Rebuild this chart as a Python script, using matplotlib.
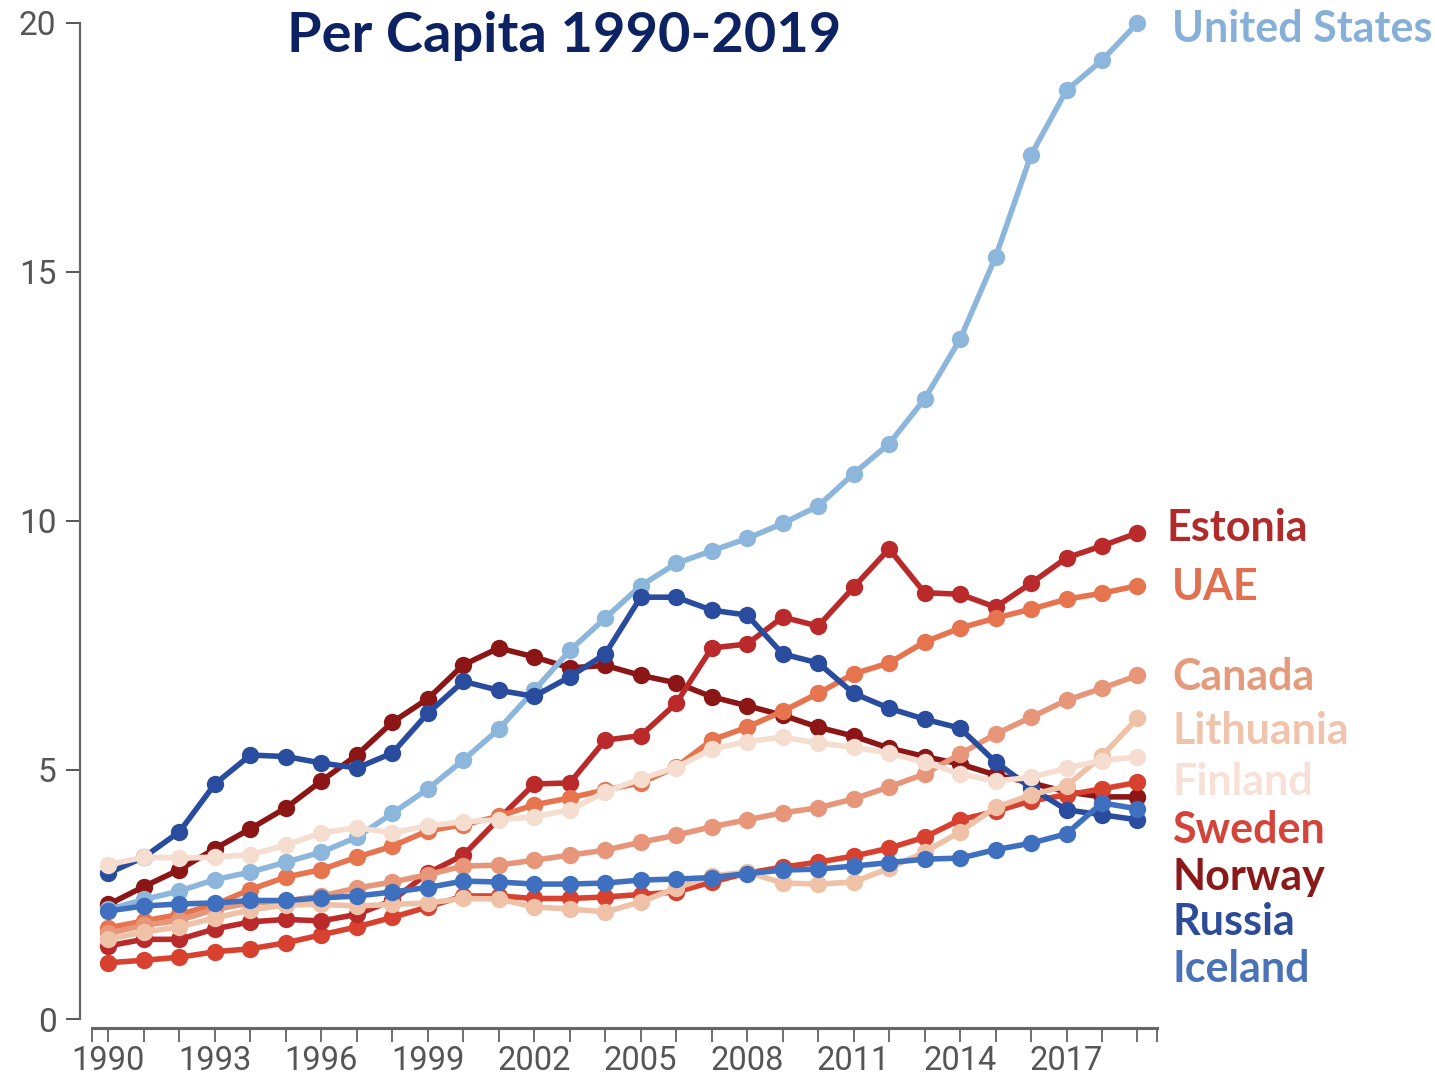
import matplotlib
matplotlib.use('Agg')
import matplotlib.pyplot as plt

years = list(range(1990, 2020))

united_states = [2.2, 2.4, 2.57, 2.8, 2.95, 3.15, 3.35, 3.65, 4.13, 4.62, 5.2, 5.82, 6.6, 7.4, 8.05,
                 8.7, 9.15, 9.4, 9.65, 9.95, 10.3, 10.95, 11.55, 12.45, 13.65, 15.3, 17.35, 18.65, 19.25, 20.0]
estonia = [1.47, 1.6, 1.6, 1.81, 1.95, 2.0, 1.97, 2.1, 2.38, 2.93, 3.29, 4.02, 4.72, 4.74, 5.6,
           5.69, 6.34, 7.45, 7.53, 8.07, 7.89, 8.67, 9.44, 8.56, 8.53, 8.27, 8.75, 9.26, 9.5, 9.76]
uae = [1.83, 1.97, 2.1, 2.3, 2.6, 2.85, 3.0, 3.25, 3.47, 3.78, 3.9, 4.07, 4.3, 4.44, 4.6,
       4.74, 5.06, 5.6, 5.86, 6.18, 6.54, 6.93, 7.15, 7.57, 7.85, 8.05, 8.23, 8.43, 8.55, 8.7]
canada = [1.72, 1.88, 1.98, 2.2, 2.33, 2.37, 2.47, 2.63, 2.75, 2.9, 3.07, 3.09, 3.19, 3.29, 3.39,
          3.55, 3.69, 3.86, 4.0, 4.14, 4.24, 4.42, 4.66, 4.92, 5.32, 5.72, 6.06, 6.4, 6.64, 6.9]
lithuania = [1.6, 1.75, 1.85, 2.03, 2.19, 2.29, 2.3, 2.27, 2.3, 2.33, 2.42, 2.41, 2.25, 2.21, 2.15,
             2.35, 2.63, 2.87, 2.95, 2.73, 2.71, 2.75, 3.03, 3.35, 3.76, 4.25, 4.5, 4.68, 5.28, 6.04]
finland = [3.1, 3.25, 3.23, 3.25, 3.3, 3.49, 3.74, 3.84, 3.74, 3.88, 3.96, 4.0, 4.06, 4.2, 4.56,
           4.82, 5.05, 5.42, 5.57, 5.66, 5.54, 5.46, 5.34, 5.16, 4.92, 4.78, 4.85, 5.04, 5.19, 5.26]
sweden = [1.13, 1.18, 1.24, 1.35, 1.41, 1.53, 1.69, 1.85, 2.04, 2.25, 2.47, 2.47, 2.42, 2.42, 2.45,
          2.5, 2.55, 2.75, 2.93, 3.05, 3.15, 3.27, 3.43, 3.65, 4.0, 4.17, 4.38, 4.5, 4.62, 4.75]
norway = [2.3, 2.66, 3.0, 3.42, 3.82, 4.24, 4.78, 5.3, 5.96, 6.43, 7.11, 7.45, 7.27, 7.05, 7.1,
          6.9, 6.75, 6.47, 6.29, 6.1, 5.86, 5.68, 5.44, 5.27, 5.12, 4.9, 4.74, 4.56, 4.46, 4.46]
russia = [2.93, 3.25, 3.76, 4.72, 5.3, 5.27, 5.14, 5.04, 5.34, 6.14, 6.78, 6.6, 6.48, 6.87, 7.33,
          8.47, 8.47, 8.21, 8.11, 7.33, 7.15, 6.54, 6.24, 6.02, 5.84, 5.16, 4.64, 4.2, 4.1, 4.0]
iceland = [2.17, 2.27, 2.31, 2.33, 2.38, 2.38, 2.43, 2.47, 2.55, 2.64, 2.77, 2.75, 2.71, 2.71, 2.73,
           2.79, 2.81, 2.84, 2.92, 2.99, 3.01, 3.07, 3.14, 3.21, 3.23, 3.4, 3.53, 3.72, 4.34, 4.22]

series_names = ["United States", "Estonia", "UAE", "Canada", "Lithuania", "Finland",
                "Sweden", "Norway", "Russia", "Iceland"]
series_values = [united_states, estonia, uae, canada, lithuania, finland,
                 sweden, norway, russia, iceland]
line_colors = ["#8db6dc", "#bb2a2a", "#e6744f", "#e8967a", "#efc1a6", "#f5ddd0",
               "#d8412f", "#8c1616", "#2a4c9e", "#3f70bf"]
label_colors = ["#86b0d8", "#b22b2b", "#e07050", "#e69a7c", "#f0c4ac", "#f7e1d6",
                "#d5443a", "#8a1a1a", "#2d4b96", "#4a72b8"]
draw_order = [7, 6, 1, 2, 3, 0, 8, 4, 5, 9]

yticks = [0, 5, 10, 15, 20]
xtick_labels = [str(y) if (y - 1990) % 3 == 0 and y <= 2017 else "" for y in years]
title_text = "Per Capita 1990-2019"

W, H = 1435, 1079
fig = plt.figure(figsize=(W / 100, H / 100), dpi=100)


def fx(px):
    return px / W


def fy(py):
    return 1 - py / H


ax = fig.add_axes([fx(80), fy(1019), fx(1157) - fx(80), fy(23) - fy(1019)])

for z, i in enumerate(draw_order):
    ax.plot(years, series_values[i], color=line_colors[i], lw=4.0, marker='o', ms=12.5,
            mew=0, clip_on=False, zorder=3 + z, solid_joinstyle='round')

ax.set_xlim(1989.197, 2019.55)
ax.set_ylim(0, 20)
for s in ['top', 'right']:
    ax.spines[s].set_visible(False)
ax.spines['left'].set_color('#666666')
ax.spines['left'].set_linewidth(1.6)
ax.spines['bottom'].set_color('#666666')
ax.spines['bottom'].set_linewidth(2.2)
ax.spines['bottom'].set_position(('outward', 6.5))
ax.spines['bottom'].set_bounds(1989.535, 2019.55)

ax.set_xticks(years)
ax.set_xticklabels(xtick_labels)
ax.set_xticks([1989.535, 2019.55], minor=True)
ax.set_yticks(yticks)
ax.set_yticklabels([str(v) for v in yticks])

tick_font = 'Roboto'
ax.tick_params(axis='x', which='both', direction='out', length=10, width=1.2,
               color='#555555', pad=2, labelsize=23.5, labelcolor='#555555')
ax.tick_params(axis='y', direction='out', length=10, width=1.4, color='#555555',
               pad=7, labelsize=24, labelcolor='#555555')
for lab in ax.get_xticklabels() + ax.get_yticklabels():
    lab.set_fontfamily(tick_font)

fig.canvas.draw()
renderer = fig.canvas.get_renderer()


def fitted_text(x_px, baseline_px, s, color, target_w, base_size=30, ha='left'):
    t = fig.text(fx(x_px), fy(baseline_px), s, color=color, fontsize=base_size,
                 fontfamily='Lato', fontweight='bold', ha=ha, va='baseline')
    w = t.get_window_extent(renderer).width
    t.set_fontsize(base_size * target_w / w)
    return t


fitted_text(287, 52, title_text, '#0d2262', 553, base_size=40)

label_pos = {
    "United States": (1172, 42, 258),
    "Estonia": (1166, 541, 139),
    "UAE": (1172, 600, 78),
    "Canada": (1172, 690, 142),
    "Lithuania": (1172, 744, 179),
    "Finland": (1172, 795, 141),
    "Sweden": (1172, 843, 153),
    "Norway": (1172, 890, 150),
    "Russia": (1172, 935, 121),
    "Iceland": (1172, 982, 140),
}
sizes = []
for name in series_names:
    x, b, w = label_pos[name]
    t = fig.text(0, 0, name, fontsize=30, fontfamily='Lato', fontweight='bold')
    sizes.append(30 * w / t.get_window_extent(renderer).width)
    t.remove()
common = sorted(sizes)[len(sizes) // 2]
for i, name in enumerate(series_names):
    x, b, w = label_pos[name]
    fig.text(fx(x), fy(b), name, color=label_colors[i], fontsize=common,
             fontfamily='Lato', fontweight='bold', ha='left', va='baseline')

fig.savefig('out.png', dpi=100)
